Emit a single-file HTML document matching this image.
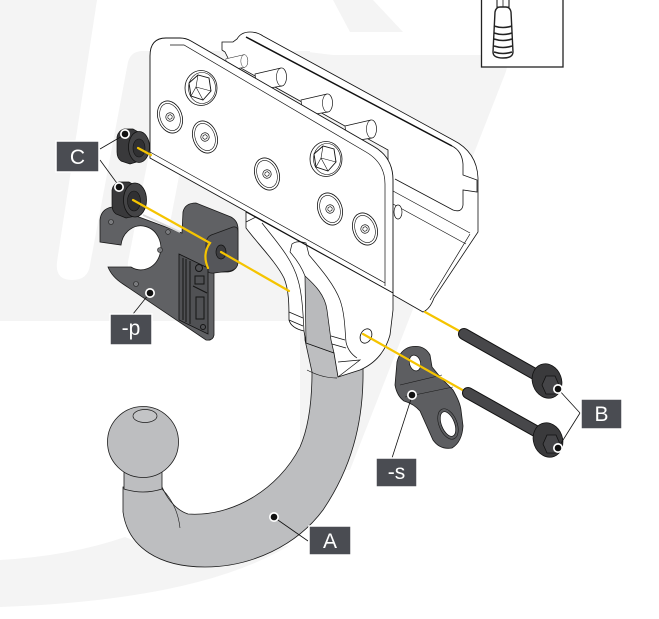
<!DOCTYPE html>
<html><head><meta charset="utf-8"><style>
html,body{margin:0;padding:0;background:#fff;overflow:hidden;}
svg{display:block;}
</style></head><body>
<svg xmlns="http://www.w3.org/2000/svg" width="659" height="619" viewBox="0 0 659 619">
<defs>
<g id="scr">
<ellipse rx="12" ry="16.5" fill="#fff" stroke="#111" stroke-width="0.8"/>
<ellipse rx="9.8" ry="14" fill="none" stroke="#111" stroke-width="0.6"/>
<circle r="4.2" fill="#fff" stroke="#111" stroke-width="0.7"/>
<polygon points="2.4,0 1.2,2.1 -1.2,2.1 -2.4,0 -1.2,-2.1 1.2,-2.1" fill="none" stroke="#111" stroke-width="0.6"/>
</g>
<g id="hb">
<ellipse rx="16" ry="17.5" fill="#fff" stroke="#111" stroke-width="0.8"/>
<ellipse cx="1" cy="0" rx="13.5" ry="15.5" fill="none" stroke="#111" stroke-width="0.6"/>
<polygon points="-12,-5 -3,-13 8,-10 10,3 2,12 -10,8" fill="#fff" stroke="#111" stroke-width="0.9"/>
<path d="M-3,-13 L-5,-1 L-10,8 M-5,-1 L2,12 M-5,-1 L10,3" fill="none" stroke="#111" stroke-width="0.6"/>
</g>
<g id="cyl">
<path d="M-26,-3 L0,-9 A5,9 0 0 1 1,9 L-24,13 Z" fill="#fff" stroke="#111" stroke-width="0.7"/>
<path d="M0,-9 A5,9 0 0 0 1,9" fill="none" stroke="#111" stroke-width="0.6"/>
</g>
</defs>

<rect width="659" height="619" fill="#fff"/>

<!-- watermark -->
<g fill="#f4f4f4">
<path d="M0,0 L97,0 L57,262 Q55,280 72,280 Q88,280 90,265 L128,62 Q131,51 143,51 L160,51 Q169,51 167,62 L128,262 Q126,280 143,280 Q159,280 162,265 L203,51 L310,51 L310,321 L0,321 Z"/>
<path d="M300,51 L333,55 L495,55 Q512,56 505,74 L350,470 L300,470 Z"/>
<path d="M333,0 L373,0 L403,32 L350,32 Z"/>
<path d="M0,560 Q70,556 125,537 L200,567 L290,545 Q200,600 0,607 Z"/>
</g>

<!-- inset tool box -->
<rect x="481.5" y="-2" width="81.5" height="69" fill="#fff" stroke="#222" stroke-width="1.3"/>
<path d="M497,0 L497,7 L509,7 L509,0" fill="#fff" stroke="#222" stroke-width="1.1"/>
<path d="M503,0 L503,7" stroke="#222" stroke-width="0.8"/>
<path d="M495,12 Q496,7 500,7 L506,7 Q510,7 511,12 L513,52 Q513,58 503,58 Q493,58 493,52 Z" fill="#fff" stroke="#222" stroke-width="1.4"/>
<g fill="none" stroke="#222" stroke-width="1.6">
<path d="M494,26 Q503,29 512,26"/><path d="M494,33 Q503,36 512,33"/><path d="M494,39 Q503,42 512,39"/><path d="M494,46 Q503,49 512,46"/><path d="M494,52 Q503,55 512,52"/>
</g>

<!-- hook (behind bracket) -->
<path d="M305,272 L340,272 L363,368 C364,425 350,470 323,510 C297,545 252,567 205,567 C160,567 128,548 123,512 L123,487 L162,487 C168,500 176,510 188,514 C232,517 278,490 300,447 C310,424 312,395 312,372 L305,340 Z" fill="#bdbec0" stroke="#1a1a1a" stroke-width="0.8"/>
<path d="M162,489 C171,498 178,510 180,528" fill="none" stroke="#1a1a1a" stroke-width="0.6"/>
<path d="M124,466 L124,489 Q143,495 162,489 L162,466 Z" fill="#bdbec0" stroke="#1a1a1a" stroke-width="0.8"/>
<circle cx="143" cy="442" r="35.5" fill="#bdbec0" stroke="#1a1a1a" stroke-width="0.8"/>
<ellipse cx="145" cy="416" rx="12" ry="6.5" fill="#c3c4c6" stroke="#1a1a1a" stroke-width="0.7"/>

<!-- rear plate -->
<path d="M222,42 L233,42 L237,39 Q241,32 250,32 Q257,32 263,36 L453,140 Q477,152 478,178 L478,232 L434,298 Q430,309 423,312 L388,292 L388,150 L230,62 L225,52 L222,50 Z" fill="#fff" stroke="#111" stroke-width="0.8"/>
<path d="M246,37 L452,146" stroke="#111" stroke-width="1.5"/>
<path d="M452,146 Q462,151 463,164 L463,175 L477,180 L477,192 L463,190 L463,205 Q462,213 453,210 L395,179" fill="none" stroke="#111" stroke-width="0.8"/>
<path d="M393,191 L470,233 M470,234 L430,300 M393,204 L466,244" fill="none" stroke="#111" stroke-width="0.7"/>
<ellipse cx="398" cy="212" rx="4" ry="7" fill="#fff" stroke="#111" stroke-width="0.7"/>

<!-- spacer cylinders -->
<use href="#cyl" transform="translate(244,61) scale(0.7)"/>
<use href="#cyl" transform="translate(281,77)"/>
<use href="#cyl" transform="translate(327,103)"/>
<use href="#cyl" transform="translate(371,129)"/>

<!-- front plate -->
<path d="M150,56 Q150,38 166,38 L180,38 Q186,38 191,41 L373,146 Q393,157 393,180 L393,293 L150,158 Z" fill="#fff" stroke="#111" stroke-width="0.9"/>
<path d="M170,45 L184,45 L366,152 Q385,163 385,184 L385,286" fill="none" stroke="#111" stroke-width="0.7"/>
<path d="M150,152 L385,283" fill="none" stroke="#111" stroke-width="0.7"/>
<use href="#hb" transform="translate(201,88)"/>
<use href="#hb" transform="translate(326,159)"/>
<use href="#scr" transform="translate(170,117) rotate(-20)"/>
<use href="#scr" transform="translate(205,137) rotate(-20)"/>
<use href="#scr" transform="translate(267,174) rotate(-20)"/>
<use href="#scr" transform="translate(330,209) rotate(-20)"/>
<use href="#scr" transform="translate(365,229) rotate(-20)"/>
<ellipse cx="364" cy="281" rx="4" ry="3" fill="#fff" stroke="#111" stroke-width="0.7"/>

<!-- white bracket -->
<path d="M246,212 L246,228 C258,244 276,262 284,278 C289,290 289,305 289,320 Q291,328 304,331 L306,343 L334,353 L338,377 L360,370 Q383,360 390,335 L393,310 L393,293 Z" fill="#fff" stroke="#111" stroke-width="0.8"/>
<path d="M305,276 C315,285 325,295 327,310 L331,340 L334,353 L306,343 Z" fill="#b9babc" stroke="#111" stroke-width="0.7"/>
<g fill="none" stroke="#111" stroke-width="0.7">
<path d="M262,223 C275,240 292,258 298,280 C302,293 303,312 304,331"/>
<path d="M246,222 L256,217 L264,222"/>
<path d="M290,252 C297,260 302,268 305,276"/>
<path d="M290,252 L292,244 Q297,240 306,243 L309,255"/>
<path d="M309,255 C320,268 334,284 340,300 C345,314 345,332 346,342 Q348,352 357,358"/>
<path d="M289,312 L303,318 M289,320 L303,326"/>
<path d="M331,336 L345,340 M332,344 L346,348"/>
<path d="M338,362 L360,360 L338,377"/>
<path d="M307,370 Q322,378 337,378"/>
</g>
<ellipse cx="366" cy="336" rx="5.5" ry="7.5" transform="rotate(25 366 336)" fill="#fff" stroke="#111" stroke-width="0.8"/>

<!-- -p plate -->
<path d="M100,242 L100,220 Q101,209 112,207 L182,233 L183,212 Q185,203 196,203 L231,217 Q238,221 238,229 L238,262 Q237,271 228,272 L214,272 L214,335 Q213,341 206,340 L123,284 Q112,277 108,267 L131,267 A20,22 0 1 0 121,245 Z" fill="#606164" stroke="#1a1a1a" stroke-width="0.8"/>
<path d="M206,244 Q206,236 214,234 L233,227 Q238,226 238,232 L238,262 Q238,269 230,271 L214,273 Q206,274 206,266 Z" fill="#55565a" stroke="#1a1a1a" stroke-width="0.7"/>
<path d="M143,215 L180,232" stroke="#d8d8d8" stroke-width="1.8"/>
<ellipse cx="221" cy="252" rx="5" ry="7" fill="#3d3d40" stroke="#111" stroke-width="0.7"/>
<g fill="#7a7b7e" stroke="#222" stroke-width="0.6">
<circle cx="111" cy="222" r="2.5"/><circle cx="160" cy="250" r="2.5"/><circle cx="136" cy="284" r="2.5"/><circle cx="168" cy="232" r="2.3"/>
</g>
<path d="M179,254 L208,268 L208,334 L179,320 Z" fill="#505154" stroke="#111" stroke-width="0.8"/>
<g fill="none" stroke="#151515" stroke-width="1">
<path d="M183,258 L183,320 M186,259 L186,322 M190,261 L190,324 M193,286 L207,293"/>
<rect x="195" y="276" width="9" height="8"/>
<rect x="196" y="297" width="8" height="22"/>
<circle cx="199" cy="268" r="3.5"/>
<circle cx="203" cy="327" r="2.5"/>
</g>

<!-- C bushings -->
<path d="M117,137 Q118,131 124,129 L133,129 L140,133 L140,161 L130,164 L121,161 Q117,158 117,152 Z" fill="#39393b" stroke="#111" stroke-width="0.7"/>
<ellipse cx="139" cy="147" rx="10.5" ry="15.5" fill="#444446" stroke="#111" stroke-width="0.8"/>
<ellipse cx="139" cy="148" rx="6" ry="9" fill="#303032" stroke="#111" stroke-width="0.6"/>
<path d="M112,190 Q113,184 119,182 L129,182 L136,186 L136,216 L126,218 L116,214 Q112,211 112,205 Z" fill="#39393b" stroke="#111" stroke-width="0.7"/>
<ellipse cx="135" cy="200" rx="11.5" ry="17" fill="#444446" stroke="#111" stroke-width="0.8"/>
<ellipse cx="134" cy="201" rx="6.5" ry="10" fill="#303032" stroke="#111" stroke-width="0.6"/>

<!-- -s bracket -->
<path d="M397,362 Q400,350 410,347 Q424,344 430,355 L432,367 L441,378 L453,390 Q460,402 461,410 L463,426 Q462,442 452,448 Q440,450 433,440 L420,411 Q414,404 404,401 Q397,396 395,385 Z" fill="#5d5e61" stroke="#1a1a1a" stroke-width="0.8"/>
<ellipse cx="415" cy="363" rx="5.5" ry="8" transform="rotate(-15 415 363)" fill="#fff" stroke="#111" stroke-width="0.7"/>
<ellipse cx="448" cy="424" rx="9" ry="16" transform="rotate(-22 448 424)" fill="none" stroke="#1a1a1a" stroke-width="0.6"/>
<ellipse cx="448" cy="424" rx="6.5" ry="13" transform="rotate(-22 448 424)" fill="#fff" stroke="#111" stroke-width="0.7"/>
<path d="M400,385 L442,375 M405,397 L453,387" fill="none" stroke="#1a1a1a" stroke-width="0.6"/>

<!-- yellow axis lines -->
<g stroke="#f5c400" stroke-width="2.2" fill="none" stroke-linecap="round">
<path d="M138,148 L151,155"/>
<path d="M133,200 L210,243 Q202,254 208,268"/>
<path d="M221,252 L289,291"/>
<path d="M363,334 L466,392"/>
<path d="M425,312 L463,333"/>
</g>

<!-- B bolts -->
<line x1="464" y1="334" x2="540" y2="377" stroke="#111" stroke-width="12" stroke-linecap="round"/>
<line x1="464" y1="334" x2="540" y2="377" stroke="#47474a" stroke-width="10" stroke-linecap="round"/>
<ellipse cx="547" cy="381" rx="14.5" ry="17.5" transform="rotate(-20 547 381)" fill="#3a3a3c" stroke="#111" stroke-width="0.8"/>
<polygon points="559,385 555,394 546,394 542,385 546,376 555,376" fill="#454548" stroke="#111" stroke-width="0.8"/>
<line x1="468" y1="393" x2="541" y2="434" stroke="#111" stroke-width="12" stroke-linecap="round"/>
<line x1="468" y1="393" x2="541" y2="434" stroke="#47474a" stroke-width="10" stroke-linecap="round"/>
<ellipse cx="548" cy="440" rx="14.5" ry="17.5" transform="rotate(-20 548 440)" fill="#3a3a3c" stroke="#111" stroke-width="0.8"/>
<polygon points="560,444 556,453 547,453 543,444 547,435 556,435" fill="#454548" stroke="#111" stroke-width="0.8"/>

<!-- leaders -->
<g stroke="#111" stroke-width="0.8" fill="none">
<path d="M100,149 L124,135"/>
<path d="M100,160 L119,186"/>
<path d="M149,294 L133,314"/>
<path d="M275,518 L308,541"/>
<path d="M412,396 L392,458"/>
<path d="M558,389 L580,413 L558,448"/>
</g>
<!-- dots -->
<g>
<circle cx="125" cy="134" r="5" fill="#fff"/><circle cx="125" cy="134" r="3.3" fill="#111"/>
<circle cx="119" cy="187" r="5" fill="#fff"/><circle cx="119" cy="187" r="3.3" fill="#111"/>
<circle cx="150" cy="293" r="5" fill="#fff"/><circle cx="150" cy="293" r="3.3" fill="#111"/>
<circle cx="274" cy="517" r="5" fill="#fff"/><circle cx="274" cy="517" r="3.3" fill="#111"/>
<circle cx="412" cy="395" r="5" fill="#fff"/><circle cx="412" cy="395" r="3.3" fill="#111"/>
<circle cx="558" cy="389" r="5" fill="#fff"/><circle cx="558" cy="389" r="3.3" fill="#111"/>
<circle cx="558" cy="448" r="5" fill="#fff"/><circle cx="558" cy="448" r="3.3" fill="#111"/>
</g>

<!-- labels -->
<g fill="#4a4c52" stroke="#fff" stroke-width="1.5">
<rect x="56" y="141" width="43" height="31"/>
<rect x="110" y="314" width="42" height="31"/>
<rect x="581" y="399" width="41" height="30"/>
<rect x="376" y="458" width="41" height="29"/>
<rect x="309" y="526" width="42" height="29"/>
</g>
<g font-family="'Liberation Sans', sans-serif" font-size="21" fill="#fff" text-anchor="middle">
<text x="77.5" y="164">C</text>
<text x="131" y="335">-p</text>
<text x="601.5" y="421">B</text>
<text x="396.5" y="479">-s</text>
<text x="330" y="548">A</text>
</g>
</svg>
</body></html>
